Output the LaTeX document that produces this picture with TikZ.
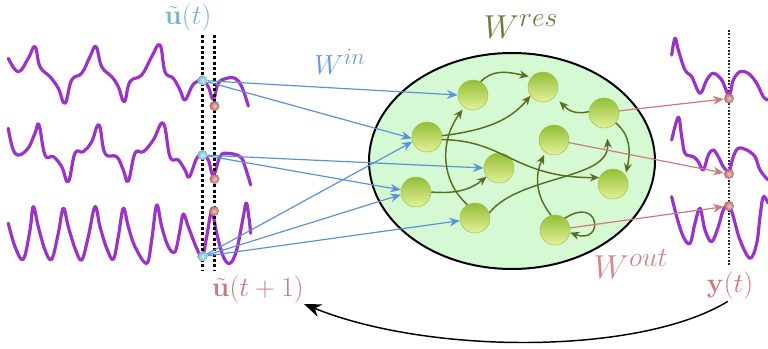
\documentclass[tikz,border=0pt]{standalone}
\usetikzlibrary{arrows.meta,shapes.geometric}
\definecolor{sigpurple}{HTML}{9B33C9}
\definecolor{cyanball}{HTML}{8FE6F2}
\definecolor{redball}{HTML}{E88A8A}
\definecolor{resfill}{HTML}{D5F9D3}
\definecolor{neutop}{HTML}{93BE36}
\definecolor{neubot}{HTML}{E4F29A}
\definecolor{neuedge}{HTML}{A3C24C}
\definecolor{olivearr}{HTML}{5B6E1F}
\definecolor{bluearr}{HTML}{5B93D8}
\definecolor{redarr}{HTML}{D27A7A}
\definecolor{ulabel}{HTML}{75B9C6}
\definecolor{rlabel}{HTML}{C97B7B}
\definecolor{winc}{HTML}{6A9BD9}
\definecolor{wresc}{HTML}{6B7C38}
\definecolor{woutc}{HTML}{D48585}
\begin{document}
\begin{tikzpicture}[x=0.75pt,y=-0.75pt,
  neuron/.style={circle,minimum size=22.5pt,inner sep=0pt,draw=neuedge,line width=0.4pt,top color=neutop,bottom color=neubot},
  cdot/.style={circle,minimum size=7.5pt,inner sep=0pt,shading=radial,inner color=cyanball!45!white,outer color=cyanball!80!black},
  rdot/.style={circle,minimum size=7.5pt,inner sep=0pt,shading=radial,inner color=redball!50!white,outer color=redball!75!black},
  sig/.style={sigpurple,line width=2.4pt,line cap=round,line join=round},
  guide/.style={black,line width=1.7pt,dash pattern=on 2.2pt off 1.8pt},
  fineguide/.style={black!85,line width=0.8pt,dash pattern=on 1.3pt off 1.2pt},
  inarr/.style={bluearr,line width=0.9pt,-{Stealth[length=8pt,width=6.5pt]}},
  resarr/.style={olivearr,line width=1.1pt,-{Stealth[length=7pt,width=6pt]}},
  outarr/.style={redarr,line width=0.9pt,-{Stealth[length=8pt,width=6.5pt]}},
  backarr/.style={black,line width=1.1pt,-{Stealth[length=13pt,width=10pt]}},
  lbl/.style={inner sep=0pt}
]
\useasboundingbox (0,0) rectangle (768,349);

% reservoir
\draw[fill=resfill,line width=1.5pt] (512,161) ellipse [x radius=107.25pt, y radius=81pt];

% input signals
\draw[sig] plot[smooth,tension=0.7] coordinates {(8.3,58.3)(18.3,71.7)(28.3,58.3)(35,46.7)(40,66.7)(50,76.7)(58.3,88.3)(65,103.3)(71.7,80)(81.7,73.3)(90,56.7)(96,46.7)(101.7,66.7)(111.7,76.7)(118.3,86.7)(124.3,101.7)(130,81.7)(141.7,75)(151.7,56.7)(160,45)(165,71.7)(173.3,78.3)(180,90)(185,100)(191.7,86.7)(196.7,81.7)(202.3,80)(208.3,86.7)(213.3,99.3)(218.3,83.3)(226.7,78.3)(235,78.3)(241.7,86.7)(248.3,106)};
\draw[sig] plot[smooth,tension=0.7] coordinates {(8.3,128.3)(15,153.3)(26.7,150)(35,133.3)(39,125)(45,155)(53.3,156.7)(61.7,166.7)(68.3,181.7)(75,153.3)(83.3,151.7)(91.7,141.7)(99,125)(105,153.3)(116.7,156.7)(123.3,170)(128.3,181)(135,153.3)(143.3,151.7)(153.3,140)(163.3,123.3)(170,156.7)(178.3,160)(185,170)(189.3,176.7)(196.7,158.3)(202.3,155)(208.3,160)(213.3,175)(220,156.7)(226.7,153.3)(240,156.7)(245,166.7)(250.7,185)};
\draw[sig] plot[smooth,tension=0.6] coordinates {(8.3,223.3)(15,246.7)(23.3,259.3)(30,230)(33.3,206.7)(38.3,226.7)(45,250)(51.7,259.3)(58.3,233.3)(63.3,208.3)(68.3,226.7)(75,248.3)(81.7,260)(88.3,236.7)(95,206.7)(100,226.7)(106.7,248.3)(113.3,259.3)(118.3,236.7)(123.3,208.3)(128.3,226.7)(135,246.7)(146.7,263.3)(151.7,240)(156.7,205)(161.7,226.7)(168.3,246.7)(175,251.7)(180,230)(183.3,214)(188.3,226.7)(196.7,248.3)(202.3,256.7)(206.7,236.7)(211.7,211.7)(216.7,233.3)(223.3,256.7)(230,263.3)(236.7,250)(243.3,216.7)(246.7,203.3)(250.7,233.3)};

% output signals
\draw[fineguide] (729,30) -- (729,265);
\draw[sig] plot[smooth,tension=0.6] coordinates {(671.7,55)(675,38.3)(678.3,50)(685,70)(691.7,76.7)(700,93.3)(706.7,80)(713.3,73.3)(721.7,80)(729,95)(733.3,80)(740,71.7)(748.3,73.3)(756.7,83.3)(763.3,96.7)(768,100)};
\draw[sig] plot[smooth,tension=0.6] coordinates {(671.7,140)(678.3,117.3)(681.7,136.7)(685,153.3)(693.3,156.7)(698.3,161.7)(703.3,170)(708.3,155)(713.3,150)(718.3,156.7)(723.3,166.7)(729,171)(733.3,156.7)(738.3,148.3)(746.7,150)(755,156.7)(760,170)(768,180)};
\draw[sig] plot[smooth,tension=0.6] coordinates {(671.7,196.7)(676.7,216.7)(683.3,236.7)(690,243.3)(695,223.3)(700,208.3)(705,230)(711.7,241.7)(718.3,226.7)(723.3,210)(729,205)(733.3,216.7)(740,240)(750,258.3)(756.7,243.3)(760,216.7)(763.3,196.7)(768,203)};

% time guides
\draw[guide] (202.5,35) -- (202.5,271);
\draw[guide] (214.5,35) -- (214.5,271);

% neurons
\node[neuron] (A) at (473,95) {};
\node[neuron] (B) at (543,87) {};
\node[neuron] (C) at (604,113) {};
\node[neuron] (D) at (427,137) {};
\node[neuron] (E) at (554,140) {};
\node[neuron] (F) at (499,168) {};
\node[neuron] (G) at (416,192) {};
\node[neuron] (H) at (613,184) {};
\node[neuron] (I) at (475,218) {};
\node[neuron] (J) at (555,230) {};

% dots
\node[cdot] (c1) at (202.5,80.5) {};
\node[cdot] (c2) at (202.5,155) {};
\node[cdot] (c3) at (202.5,256.5) {};
\node[rdot] (r1) at (214.5,106) {};
\node[rdot] (r2) at (214.5,179) {};
\node[rdot] (r3) at (214,211) {};
\node[rdot] (o1) at (729,98.5) {};
\node[rdot] (o2) at (729,174) {};
\node[rdot] (o3) at (729,206) {};

% labels
\node[lbl,text=ulabel,font=\fontsize{20}{24}\selectfont] (ut) at (188,18) {$\tilde{\mathbf{u}}(t)$};
\node[lbl,text=rlabel,font=\fontsize{20}{24}\selectfont] (unext) at (258,290) {$\tilde{\mathbf{u}}(t+1)$};
\node[lbl,text=rlabel,font=\fontsize{20}{24}\selectfont] (ylab) at (730,286) {$\mathbf{y}(t)$};
\node[lbl,text=winc,font=\fontsize{22}{26}\selectfont] (win) at (340,62) {$W^{\mbox{\fontsize{19}{20}\selectfont$in$}}$};
\node[lbl,text=wresc,font=\fontsize{28}{32}\selectfont] (wres) at (521,27) {$W^{res}$};
\node[lbl,text=woutc,font=\fontsize{28}{32}\selectfont] (wout) at (631,264) {$W^{out}$};

% input weights
\draw[inarr] (c1) -- (A.180);
\draw[inarr] (c1) -- (D.185);
\draw[inarr] (c2) -- (F.180);
\draw[inarr] (c2) -- (G.172);
\draw[inarr] (c3) -- (D.198);
\draw[inarr] (c3) -- (G.190);
\draw[inarr] (c3) -- (I.190);

% reservoir connections
\draw[resarr,shorten >=2pt] (A.60) .. controls (492,70) and (505,71) .. (B.140);
\draw[resarr] (D.5) .. controls (490,130) and (512,118) .. (B.215);
\draw[resarr] (D.-10) .. controls (505,140) and (515,178) .. (H.155);
\draw[resarr] (G.0) .. controls (455,194) and (470,190) .. (F.215);
\draw[resarr,shorten >=2pt] (I.120) .. controls (440,180) and (440,140) .. (A.235);
\draw[resarr,shorten >=8pt] (I.20) .. controls (520,175) and (610,180) .. (C.-80);
\draw[resarr,shorten >=2pt] (J.105) .. controls (535,195) and (535,175) .. (E.235);
\draw[resarr,shorten >=5pt] (C.175) .. controls (575,115) and (568,110) .. (B.-40);
\draw[resarr,shorten >=2pt] (C.-40) .. controls (630,135) and (631,150) .. (H.35);
\draw[resarr] (J.50) .. controls (600,195) and (605,245) .. (J.-10);

% output weights
\draw[outarr] (C.8) -- (o1);
\draw[outarr] (E.-10) -- (o2);
\draw[outarr] (J.8) -- (o3);

% feedback
\draw[backarr,shorten <=2pt] (ylab.south) .. controls (640,355) and (430,355) .. (unext.south east);
\end{tikzpicture}
\end{document}
